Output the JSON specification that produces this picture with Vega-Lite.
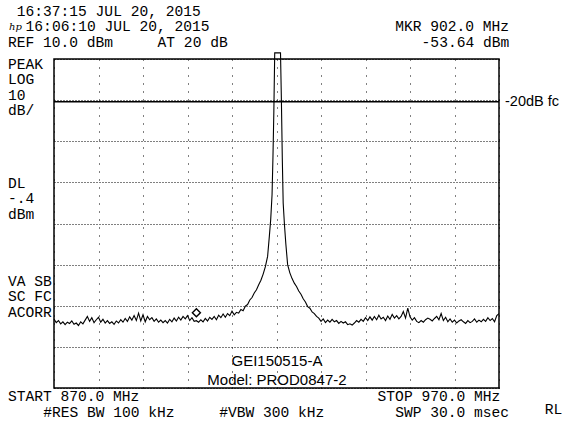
{
  "$schema": "https://vega.github.io/schema/vega-lite/v6.json",
  "width": 445,
  "height": 329,
  "autosize": {"type": "none"},
  "padding": {"left": 54, "top": 59, "right": 65, "bottom": 42},
  "background": "white",
  "config": {
    "view": {"stroke": "black", "strokeWidth": 1.5},
    "axis": {"domain": false, "ticks": false, "labels": false, "gridColor": "black", "gridOpacity": 1, "gridWidth": 1}
  },
  "datasets": {
    "trace": [
      {"f": 870.0, "p": -53.2}, {"f": 870.5, "p": -54.1}, {"f": 871.0, "p": -53.6}, {"f": 871.5, "p": -54.4},
      {"f": 872.0, "p": -53.9}, {"f": 872.5, "p": -54.6}, {"f": 873.0, "p": -54.0}, {"f": 873.5, "p": -54.3},
      {"f": 874.0, "p": -53.7}, {"f": 874.5, "p": -54.5}, {"f": 875.0, "p": -54.2}, {"f": 875.5, "p": -54.8},
      {"f": 876.0, "p": -53.9}, {"f": 876.5, "p": -54.4}, {"f": 877.0, "p": -53.5}, {"f": 877.5, "p": -52.6},
      {"f": 878.0, "p": -53.8}, {"f": 878.5, "p": -52.9}, {"f": 879.0, "p": -54.1}, {"f": 879.5, "p": -53.4},
      {"f": 880.0, "p": -52.8}, {"f": 880.5, "p": -54.0}, {"f": 881.0, "p": -53.3}, {"f": 881.5, "p": -54.2},
      {"f": 882.0, "p": -53.6}, {"f": 882.5, "p": -54.3}, {"f": 883.0, "p": -53.9}, {"f": 883.5, "p": -54.5},
      {"f": 884.0, "p": -53.7}, {"f": 884.5, "p": -54.2}, {"f": 885.0, "p": -53.4}, {"f": 885.5, "p": -54.0},
      {"f": 886.0, "p": -53.1}, {"f": 886.5, "p": -53.8}, {"f": 887.0, "p": -52.7}, {"f": 887.5, "p": -53.5},
      {"f": 888.0, "p": -52.4}, {"f": 888.5, "p": -53.6}, {"f": 889.0, "p": -51.8}, {"f": 889.5, "p": -53.7},
      {"f": 890.0, "p": -52.2}, {"f": 890.5, "p": -53.9}, {"f": 891.0, "p": -52.6}, {"f": 891.5, "p": -53.4},
      {"f": 892.0, "p": -52.9}, {"f": 892.5, "p": -53.8}, {"f": 893.0, "p": -53.2}, {"f": 893.5, "p": -54.0},
      {"f": 894.0, "p": -53.5}, {"f": 894.5, "p": -54.1}, {"f": 895.0, "p": -53.6}, {"f": 895.5, "p": -54.2},
      {"f": 896.0, "p": -53.3}, {"f": 896.5, "p": -53.9}, {"f": 897.0, "p": -53.0}, {"f": 897.5, "p": -53.7},
      {"f": 898.0, "p": -52.8}, {"f": 898.5, "p": -53.5}, {"f": 899.0, "p": -52.6}, {"f": 899.5, "p": -53.2},
      {"f": 900.0, "p": -52.4}, {"f": 900.5, "p": -53.6}, {"f": 901.0, "p": -52.9}, {"f": 901.5, "p": -53.8},
      {"f": 902.0, "p": -53.64}, {"f": 902.5, "p": -54.0}, {"f": 903.0, "p": -53.4}, {"f": 903.5, "p": -53.9},
      {"f": 904.0, "p": -53.1}, {"f": 904.5, "p": -53.7}, {"f": 905.0, "p": -52.8}, {"f": 905.5, "p": -53.3},
      {"f": 906.0, "p": -52.6}, {"f": 906.5, "p": -53.4}, {"f": 907.0, "p": -52.3}, {"f": 907.5, "p": -52.9},
      {"f": 908.0, "p": -52.0}, {"f": 908.5, "p": -52.8}, {"f": 909.0, "p": -51.9}, {"f": 909.5, "p": -52.4},
      {"f": 910.0, "p": -51.3}, {"f": 910.5, "p": -52.2}, {"f": 911.0, "p": -51.6}, {"f": 911.5, "p": -51.8},
      {"f": 912.0, "p": -50.9}, {"f": 912.5, "p": -51.2}, {"f": 913.0, "p": -50.1}, {"f": 913.5, "p": -49.7},
      {"f": 914.0, "p": -48.6}, {"f": 914.5, "p": -48.0}, {"f": 915.0, "p": -46.9}, {"f": 915.5, "p": -46.1},
      {"f": 916.0, "p": -44.9}, {"f": 916.5, "p": -43.8}, {"f": 917.0, "p": -42.3}, {"f": 917.5, "p": -40.5},
      {"f": 918.0, "p": -38.0}, {"f": 918.4, "p": -33.0}, {"f": 918.7, "p": -29.0}, {"f": 919.0, "p": -23.0},
      {"f": 919.2, "p": -14.0}, {"f": 919.4, "p": -3.0}, {"f": 919.6, "p": 11.5}, {"f": 920.9, "p": 11.5},
      {"f": 921.1, "p": 0.0}, {"f": 921.3, "p": -14.0}, {"f": 921.5, "p": -25.0}, {"f": 921.8, "p": -30.5},
      {"f": 922.1, "p": -35.0}, {"f": 922.5, "p": -40.0}, {"f": 923.0, "p": -42.0}, {"f": 923.5, "p": -43.4},
      {"f": 924.0, "p": -44.5}, {"f": 924.5, "p": -45.3}, {"f": 925.0, "p": -46.4}, {"f": 925.5, "p": -47.2},
      {"f": 926.0, "p": -48.3}, {"f": 926.5, "p": -49.1}, {"f": 927.0, "p": -50.2}, {"f": 927.5, "p": -50.6},
      {"f": 928.0, "p": -51.5}, {"f": 928.5, "p": -51.9}, {"f": 929.0, "p": -52.6}, {"f": 929.5, "p": -53.0},
      {"f": 930.0, "p": -53.8}, {"f": 930.5, "p": -53.2}, {"f": 931.0, "p": -54.1}, {"f": 931.5, "p": -53.5},
      {"f": 932.0, "p": -54.0}, {"f": 932.5, "p": -53.3}, {"f": 933.0, "p": -53.9}, {"f": 933.5, "p": -53.6},
      {"f": 934.0, "p": -54.3}, {"f": 934.5, "p": -53.8}, {"f": 935.0, "p": -54.2}, {"f": 935.5, "p": -53.9},
      {"f": 936.0, "p": -54.6}, {"f": 936.5, "p": -54.4}, {"f": 937.0, "p": -54.7}, {"f": 937.5, "p": -54.2},
      {"f": 938.0, "p": -53.6}, {"f": 938.5, "p": -54.0}, {"f": 939.0, "p": -53.3}, {"f": 939.5, "p": -53.8},
      {"f": 940.0, "p": -52.9}, {"f": 940.5, "p": -53.6}, {"f": 941.0, "p": -52.7}, {"f": 941.5, "p": -53.5},
      {"f": 942.0, "p": -52.6}, {"f": 942.5, "p": -53.4}, {"f": 943.0, "p": -52.3}, {"f": 943.5, "p": -53.2},
      {"f": 944.0, "p": -52.8}, {"f": 944.5, "p": -53.6}, {"f": 945.0, "p": -52.5}, {"f": 945.5, "p": -53.3},
      {"f": 946.0, "p": -52.1}, {"f": 946.5, "p": -53.0}, {"f": 947.0, "p": -52.4}, {"f": 947.5, "p": -53.2},
      {"f": 948.0, "p": -52.6}, {"f": 948.5, "p": -51.4}, {"f": 949.0, "p": -53.0}, {"f": 949.5, "p": -50.6},
      {"f": 950.0, "p": -52.7}, {"f": 950.5, "p": -53.5}, {"f": 951.0, "p": -52.9}, {"f": 951.5, "p": -53.8},
      {"f": 952.0, "p": -54.1}, {"f": 952.5, "p": -53.6}, {"f": 953.0, "p": -54.0}, {"f": 953.5, "p": -53.4},
      {"f": 954.0, "p": -53.0}, {"f": 954.5, "p": -53.3}, {"f": 955.0, "p": -53.7}, {"f": 955.5, "p": -53.1},
      {"f": 956.0, "p": -52.6}, {"f": 956.5, "p": -53.4}, {"f": 957.0, "p": -51.9}, {"f": 957.5, "p": -53.6},
      {"f": 958.0, "p": -52.8}, {"f": 958.5, "p": -53.9}, {"f": 959.0, "p": -53.2}, {"f": 959.5, "p": -54.0},
      {"f": 960.0, "p": -53.5}, {"f": 960.5, "p": -54.2}, {"f": 961.0, "p": -53.7}, {"f": 961.5, "p": -53.4},
      {"f": 962.0, "p": -53.9}, {"f": 962.5, "p": -54.3}, {"f": 963.0, "p": -53.6}, {"f": 963.5, "p": -54.1},
      {"f": 964.0, "p": -53.8}, {"f": 964.5, "p": -53.2}, {"f": 965.0, "p": -54.0}, {"f": 965.5, "p": -53.5},
      {"f": 966.0, "p": -53.9}, {"f": 966.5, "p": -53.3}, {"f": 967.0, "p": -53.8}, {"f": 967.5, "p": -52.9},
      {"f": 968.0, "p": -53.6}, {"f": 968.5, "p": -53.1}, {"f": 969.0, "p": -53.9}, {"f": 969.5, "p": -52.4},
      {"f": 970.0, "p": -51.9}
    ],
    "marker": [{"f": 902.0, "p": -53.64}],
    "displayLine": [{"p": -0.4, "label": "-20dB fc", "f": 971.35}],
    "monoText": [
      {"f": 861.64, "p": 21.43, "text": "16:37:15 JUL 20, 2015"},
      {"f": 863.62, "p": 17.66, "text": "16:06:10 JUL 20, 2015"},
      {"f": 946.67, "p": 17.66, "text": "MKR 902.0 MHz"},
      {"f": 859.66, "p": 13.89, "text": "REF 10.0 dBm"},
      {"f": 893.28, "p": 13.89, "text": "AT 20 dB"},
      {"f": 952.61, "p": 13.89, "text": "-53.64 dBm"},
      {"f": 859.66, "p": 8.66, "text": "PEAK"},
      {"f": 859.66, "p": 4.89, "text": "LOG"},
      {"f": 859.66, "p": 1.12, "text": "10"},
      {"f": 859.66, "p": -2.64, "text": "dB/"},
      {"f": 859.66, "p": -20.4, "text": "DL"},
      {"f": 859.66, "p": -24.16, "text": "-.4"},
      {"f": 859.66, "p": -27.93, "text": "dBm"},
      {"f": 859.66, "p": -44.22, "text": "VA SB"},
      {"f": 859.66, "p": -47.99, "text": "SC FC"},
      {"f": 859.66, "p": -51.76, "text": "ACORR"},
      {"f": 859.66, "p": -72.19, "text": "START 870.0 MHz"},
      {"f": 942.72, "p": -72.19, "text": "STOP 970.0 MHz"},
      {"f": 867.57, "p": -75.96, "text": "#RES BW 100 kHz"},
      {"f": 907.12, "p": -75.96, "text": "#VBW 300 kHz"},
      {"f": 946.67, "p": -75.96, "text": "SWP 30.0 msec"},
      {"f": 980.3, "p": -75.35, "text": "RL"}
    ],
    "logo": [{"f": 859.9, "p": 17.66, "text": "hp"}],
    "sansText": [
      {"f": 920.1, "p": -63.43, "text": "GEI150515-A"},
      {"f": 920.1, "p": -68.05, "text": "Model: PROD0847-2"}
    ]
  },
  "layer": [
    {
      "data": {"name": "trace"},
      "mark": {"type": "line", "color": "black", "strokeWidth": 1.1, "clip": false},
      "encoding": {
        "x": {"field": "f", "type": "quantitative", "scale": {"domain": [870, 970], "nice": false, "zero": false},
              "axis": {"title": null, "values": [870, 880, 890, 900, 910, 920, 930, 940, 950, 960, 970], "grid": true, "gridDash": [1, 7]}},
        "y": {"field": "p", "type": "quantitative", "scale": {"domain": [-70, 10], "nice": false, "zero": false},
              "axis": {"title": null, "values": [-70, -60, -50, -40, -30, -20, -10, 0, 10], "grid": true, "gridDash": [1, 2]}}
      }
    },
    {
      "data": {"name": "displayLine"},
      "mark": {"type": "rule", "color": "black", "strokeWidth": 1.6},
      "encoding": {
        "y": {"field": "p", "type": "quantitative", "scale": {"domain": [-70, 10], "nice": false, "zero": false}}
      }
    },
    {
      "data": {"name": "displayLine"},
      "mark": {"type": "text", "font": "Liberation Sans", "fontSize": 14.5, "align": "left", "baseline": "middle", "color": "black"},
      "encoding": {
        "x": {"field": "f", "type": "quantitative", "scale": {"domain": [870, 970], "nice": false, "zero": false}},
        "y": {"field": "p", "type": "quantitative", "scale": {"domain": [-70, 10], "nice": false, "zero": false}},
        "text": {"field": "label"}
      }
    },
    {
      "data": {"name": "marker"},
      "mark": {"type": "point", "shape": "diamond", "size": 64, "filled": false, "stroke": "black", "strokeWidth": 1.4, "yOffset": -8, "opacity": 1},
      "encoding": {
        "x": {"field": "f", "type": "quantitative", "scale": {"domain": [870, 970], "nice": false, "zero": false}},
        "y": {"field": "p", "type": "quantitative", "scale": {"domain": [-70, 10], "nice": false, "zero": false}}
      }
    },
    {
      "data": {"name": "monoText"},
      "mark": {"type": "text", "font": "Liberation Mono", "fontSize": 14.6, "align": "left", "baseline": "middle", "color": "black"},
      "encoding": {
        "x": {"field": "f", "type": "quantitative", "scale": {"domain": [870, 970], "nice": false, "zero": false}},
        "y": {"field": "p", "type": "quantitative", "scale": {"domain": [-70, 10], "nice": false, "zero": false}},
        "text": {"field": "text"}
      }
    },
    {
      "data": {"name": "logo"},
      "mark": {"type": "text", "font": "DejaVu Serif", "fontSize": 10, "fontStyle": "italic", "align": "left", "baseline": "middle", "color": "black"},
      "encoding": {
        "x": {"field": "f", "type": "quantitative", "scale": {"domain": [870, 970], "nice": false, "zero": false}},
        "y": {"field": "p", "type": "quantitative", "scale": {"domain": [-70, 10], "nice": false, "zero": false}},
        "text": {"field": "text"}
      }
    },
    {
      "data": {"name": "sansText"},
      "mark": {"type": "text", "font": "Liberation Sans", "fontSize": 15, "align": "center", "baseline": "middle", "color": "black"},
      "encoding": {
        "x": {"field": "f", "type": "quantitative", "scale": {"domain": [870, 970], "nice": false, "zero": false}},
        "y": {"field": "p", "type": "quantitative", "scale": {"domain": [-70, 10], "nice": false, "zero": false}},
        "text": {"field": "text"}
      }
    }
  ]
}
